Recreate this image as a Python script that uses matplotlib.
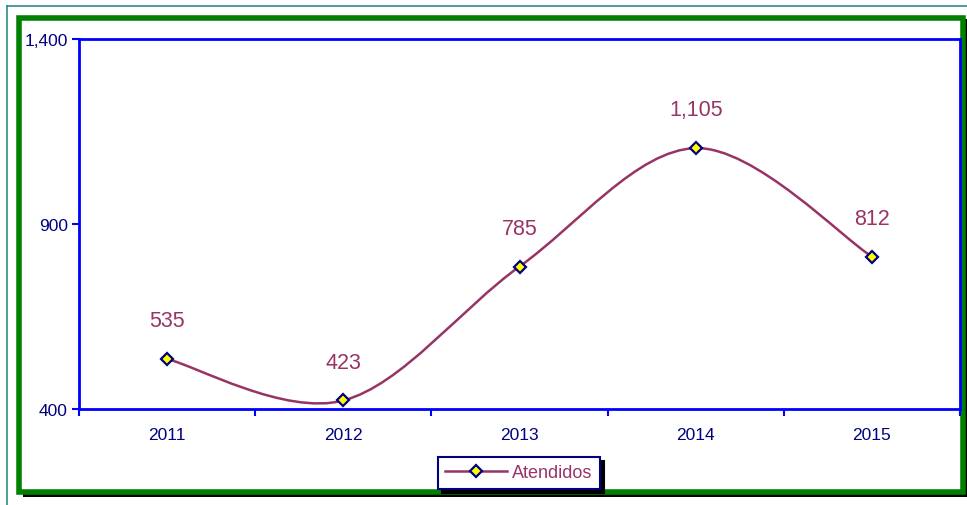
import matplotlib
matplotlib.use("Agg")
import matplotlib.pyplot as plt
from matplotlib.path import Path
from matplotlib.patches import PathPatch, Rectangle
from matplotlib.lines import Line2D

plt.rcParams['font.family'] = ['Liberation Sans', 'DejaVu Sans']

# data
years = ['2011', '2012', '2013', '2014', '2015']
atendidos = [535, 423, 785, 1105, 812]
y_ticks = [400, 900, 1400]

W, H = 967, 506
fig = plt.figure(figsize=(W / 100, H / 100), dpi=100)

# outer page lines (teal) and green frame with black shadow
def fx(px):
    return px / W

def fy(py):
    return 1 - py / H

fig.add_artist(Line2D([fx(7), fx(7)], [fy(7), fy(506)], color='#2e8b8b', lw=1.2))
fig.add_artist(Line2D([fx(7), fx(967)], [fy(7), fy(7)], color='#2e8b8b', lw=1.2))
fig.add_artist(Rectangle((fx(23), fy(498)), fx(944), 478 / H, facecolor='black', edgecolor='none'))
fig.add_artist(Rectangle((fx(19), fy(493)), fx(944), 474 / H, facecolor='white',
                         edgecolor='#008000', lw=4))

ax = fig.add_axes([fx(79), fy(410), fx(960 - 79), (410 - 40) / H])
ax.set_zorder(2)

x = list(range(len(years)))

# smoothed line like excel (bezier segments through the points)
verts = [(x[0], atendidos[0])]
codes = [Path.MOVETO]
n = len(x)
for i in range(n - 1):
    p0 = (x[max(i - 1, 0)], atendidos[max(i - 1, 0)])
    p1 = (x[i], atendidos[i])
    p2 = (x[i + 1], atendidos[i + 1])
    p3 = (x[min(i + 2, n - 1)], atendidos[min(i + 2, n - 1)])
    c1 = (p1[0] + (p2[0] - p0[0]) / 6, p1[1] + (p2[1] - p0[1]) / 6)
    c2 = (p2[0] - (p3[0] - p1[0]) / 6, p2[1] - (p3[1] - p1[1]) / 6)
    verts += [c1, c2, p2]
    codes += [Path.CURVE4] * 3
ax.add_patch(PathPatch(Path(verts, codes), facecolor='none', edgecolor='#993366', lw=1.8))

ax.plot(x, atendidos, linestyle='none', marker='D', markersize=6.5,
        markerfacecolor='#ffff00', markeredgecolor='#000080', markeredgewidth=1.6)

for xi, v in zip(x, atendidos):
    ax.annotate(f'{v:,}', (xi, v), xytext=(0, 20), textcoords='offset points',
                ha='center', va='bottom', fontsize=15.5, color='#993366')

ax.set_xlim(-0.5, 4.5)
ax.set_ylim(400, 1400)
ax.set_yticks(y_ticks)
ax.set_yticklabels([f'{t:,}' for t in y_ticks])
ax.set_xticks(x)
ax.set_xticklabels(years)
ax.set_xticks([i - 0.5 for i in range(len(years) + 1)], minor=True)
ax.tick_params(axis='x', which='major', length=0, pad=13, labelsize=12.5, labelcolor='#000080')
ax.tick_params(axis='x', which='minor', length=5, width=1.5, color='#0000ff', direction='out')
ax.tick_params(axis='y', length=5, width=1.5, color='#0000ff', labelsize=12.5,
               labelcolor='#000080', pad=3)
for s in ax.spines.values():
    s.set_color('#0000ff')
    s.set_linewidth(2)

leg_handle = Line2D([], [], color='#993366', lw=1.8, marker='D', markersize=6.5,
                    markerfacecolor='#ffff00', markeredgecolor='#000080', markeredgewidth=1.6)
leg = fig.legend([leg_handle], ['Atendidos'], loc='center', bbox_to_anchor=(fx(519), fy(474)),
                 frameon=True, fancybox=False, shadow={'color': 'black', 'alpha': 1, 'ox': 3, 'oy': -3},
                 fontsize=13, handlelength=3.4, borderpad=0.4, handletextpad=0.3,
                 borderaxespad=0)
leg.get_frame().set_edgecolor('#000080')
leg.get_frame().set_linewidth(1.5)
leg.get_texts()[0].set_color('#993366')

fig.savefig('out.png', dpi=100)
